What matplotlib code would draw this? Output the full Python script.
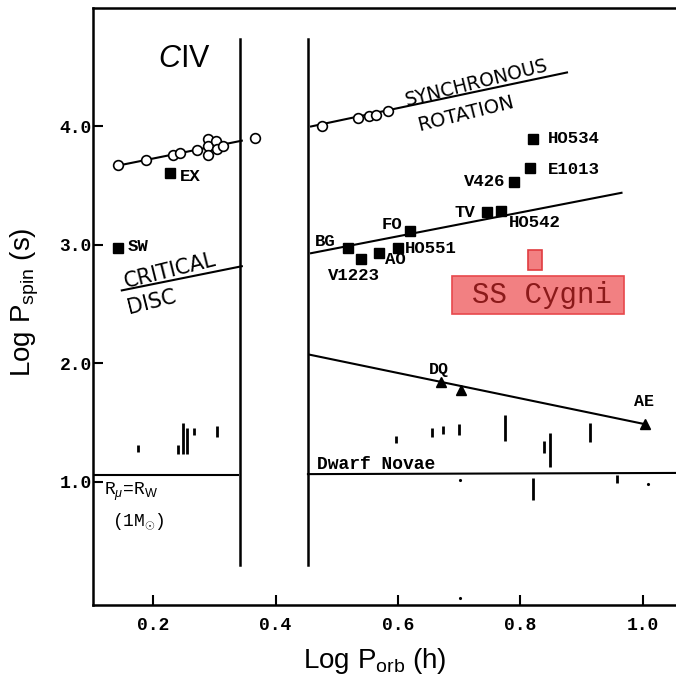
import numpy as np
import matplotlib
matplotlib.use('Agg')
import matplotlib.pyplot as plt
from matplotlib.patches import Rectangle

plt.rcParams['mathtext.fontset'] = 'custom'
plt.rcParams['mathtext.rm'] = 'Liberation Sans'
plt.rcParams['mathtext.it'] = 'Liberation Sans:italic'

MONO = 'Liberation Mono'

# --- data ---
# open circles (synchronous rotation), CIV side and long period side
circ_civ_x = [0.143, 0.189, 0.232, 0.244, 0.272, 0.289, 0.289, 0.289, 0.303, 0.304, 0.315, 0.367]
circ_civ_y = [3.673, 3.713, 3.763, 3.772, 3.800, 3.896, 3.833, 3.763, 3.876, 3.806, 3.839, 3.904]
circ_long_x = [0.476, 0.535, 0.552, 0.564, 0.584]
circ_long_y = [4.003, 4.070, 4.090, 4.100, 4.130]

# intermediate polars (filled squares)
sq_names = ['EX', 'SW', 'BG', 'V1223', 'AO', 'HO551', 'FO', 'TV', 'HO542', 'V426', 'E1013', 'HO534']
sq_x = [0.228, 0.143, 0.519, 0.540, 0.569, 0.600, 0.620, 0.746, 0.768, 0.790, 0.816, 0.821]
sq_y = [3.61, 2.975, 2.975, 2.88, 2.93, 2.975, 3.12, 3.276, 3.284, 3.53, 3.65, 3.896]

# label positions for the squares
lab_x = [0.244, 0.159, 0.464, 0.4857, 0.579, 0.611, 0.574, 0.693, 0.781, 0.775, 0.845, 0.845]
lab_y = [3.58, 2.983, 3.028, 2.74, 2.876, 2.969, 3.17, 3.273, 3.19, 3.535, 3.636, 3.90]
lab_ha = ['left', 'left', 'left', 'left', 'left', 'left', 'left', 'left', 'left', 'right', 'left', 'left']

# DQ Her stars (triangles)
tri_x = [0.671, 0.703, 1.003]
tri_y = [1.84, 1.777, 1.487]

# dwarf novae oscillation ranges (x, y_low, y_high)
dn_x = [0.175, 0.241, 0.2495, 0.255, 0.267, 0.304,
        0.597, 0.655, 0.674, 0.700, 0.774, 0.839, 0.848, 0.913, 0.820, 0.957]
dn_lo = [1.255, 1.236, 1.236, 1.236, 1.397, 1.382,
         1.326, 1.377, 1.405, 1.396, 1.348, 1.247, 1.128, 1.335, 0.847, 0.988]
dn_hi = [1.312, 1.312, 1.495, 1.453, 1.453, 1.473,
         1.388, 1.453, 1.467, 1.487, 1.565, 1.346, 1.416, 1.500, 1.030, 1.058]
dot_x = [0.701, 1.009, 0.701]
dot_y = [1.016, 0.982, 0.019]

# lines
sync_civ = ([0.143, 0.345], [3.67, 3.88])
sync_long = ([0.458, 0.876], [4.00, 4.456])
crit_disc = ([0.149, 0.345], [2.616, 2.82])
ip_line = ([0.458, 0.965], [2.93, 3.44])
dq_line = ([0.456, 1.003], [2.073, 1.487])
gap_x = [0.342, 0.453]
gap_y = [0.30, 4.735]
dn_left = ([0.105, 0.338], [1.06, 1.06])
dn_right = ([0.453, 1.06], [1.065, 1.075])

# SS Cygni highlight
ss_pt = (0.812, 2.79, 0.023, 0.165)
ss_box = (0.689, 2.419, 0.280, 0.316)

xticks = [0.2, 0.4, 0.6, 0.8, 1.0]
yticks = [1.0, 2.0, 3.0, 4.0]

fig = plt.figure(figsize=(6.76, 6.80), dpi=100)
ax = fig.add_axes([0.1376, 0.1103, 0.8624, 0.8779])
ax.set_xlim(0.102, 1.054)
ax.set_ylim(-0.04, 5.0)

lw = 1.5
for xx, yy in [sync_civ, sync_long, crit_disc, ip_line, dq_line, dn_left, dn_right]:
    ax.plot(xx, yy, color='black', lw=lw, zorder=2)
for gx in gap_x:
    ax.plot([gx, gx], gap_y, color='black', lw=lw + 0.3, zorder=2)

ax.plot(circ_civ_x, circ_civ_y, 'o', ms=7, mfc='white', mec='black', mew=1.2, ls='none', zorder=3)
ax.plot(circ_long_x, circ_long_y, 'o', ms=7, mfc='white', mec='black', mew=1.2, ls='none', zorder=3)
ax.plot(sq_x, sq_y, 's', ms=6.5, color='black', ls='none', zorder=3)
ax.plot(tri_x, tri_y, '^', ms=7.5, color='black', ls='none', zorder=3)
ax.vlines(dn_x, dn_lo, dn_hi, color='black', lw=2)
ax.plot(dot_x, dot_y, '.', ms=2.5, color='black', ls='none')

for n, x, y, ha in zip(sq_names, lab_x, lab_y, lab_ha):
    ax.text(x, y, n, ha=ha, va='center', fontsize=12.5, family=MONO, fontweight='bold')

ax.text(0.666, 1.952, 'DQ', ha='center', va='center', fontsize=12, family=MONO, fontweight='bold')
ax.text(1.002, 1.678, 'AE', ha='center', va='center', fontsize=12, family=MONO, fontweight='bold')
ax.text(0.467, 1.143, 'Dwarf Novae', ha='left', va='center', fontsize=13, family=MONO, fontweight='bold')

ax.text(0.251, 4.566, r'$C$IV', ha='center', va='center', fontsize=22, family='Liberation Sans')
ax.text(0.228, 2.785, 'CRITICAL', ha='center', va='center', fontsize=15, rotation=14,
        family='DejaVu Sans')
ax.text(0.197, 2.515, 'DISC', ha='center', va='center', fontsize=15, rotation=14,
        family='DejaVu Sans')
ax.text(0.728, 4.37, 'SYNCHRONOUS', ha='center', va='center', fontsize=13.5, rotation=14,
        family='DejaVu Sans')
ax.text(0.711, 4.11, 'ROTATION', ha='center', va='center', fontsize=14, rotation=14,
        family='DejaVu Sans')

ax.text(0.120, 0.917, r'R$_{\mu}$=R$_{\mathrm{W}}$', ha='left', va='center',
        fontsize=13, family=MONO)
ax.text(0.133, 0.664, r'(1M$_{\odot}$)', ha='left', va='center', fontsize=13, family=MONO)

ax.add_patch(Rectangle(ss_pt[:2], ss_pt[2], ss_pt[3], facecolor='#f28082', edgecolor='#e03c40',
                       lw=1.2, zorder=4))
ax.add_patch(Rectangle(ss_box[:2], ss_box[2], ss_box[3], facecolor='#f28082', edgecolor='#e8484c',
                       lw=1.2, zorder=4))
ax.text(0.835, 2.58, 'SS Cygni', ha='center', va='center', fontsize=21, family=MONO,
        color='#8b1a1a', zorder=5)

ax.spines['right'].set_visible(False)
for s in ['left', 'bottom', 'top']:
    ax.spines[s].set_linewidth(1.8)

ax.set_xticks(xticks)
ax.set_xticklabels(['%.1f' % v for v in xticks], family=MONO, fontweight='bold', fontsize=13)
ax.set_yticks(yticks)
ax.set_yticklabels(['%.1f' % v for v in yticks], family=MONO, fontweight='bold', fontsize=13)
ax.tick_params(axis='x', direction='in', length=7, width=1.5, pad=9)
ax.tick_params(axis='y', direction='in', length=7, width=1.5, pad=1)

fig.text(0.555, 0.028, r'Log P$_{\mathrm{orb}}$ (h)', ha='center', va='center', fontsize=20,
         family='Liberation Sans')
fig.text(0.037, 0.556, r'Log P$_{\mathrm{spin}}$ (s)', ha='center', va='center', fontsize=20,
         family='Liberation Sans', rotation=90)

fig.savefig('out.png', dpi=100)
